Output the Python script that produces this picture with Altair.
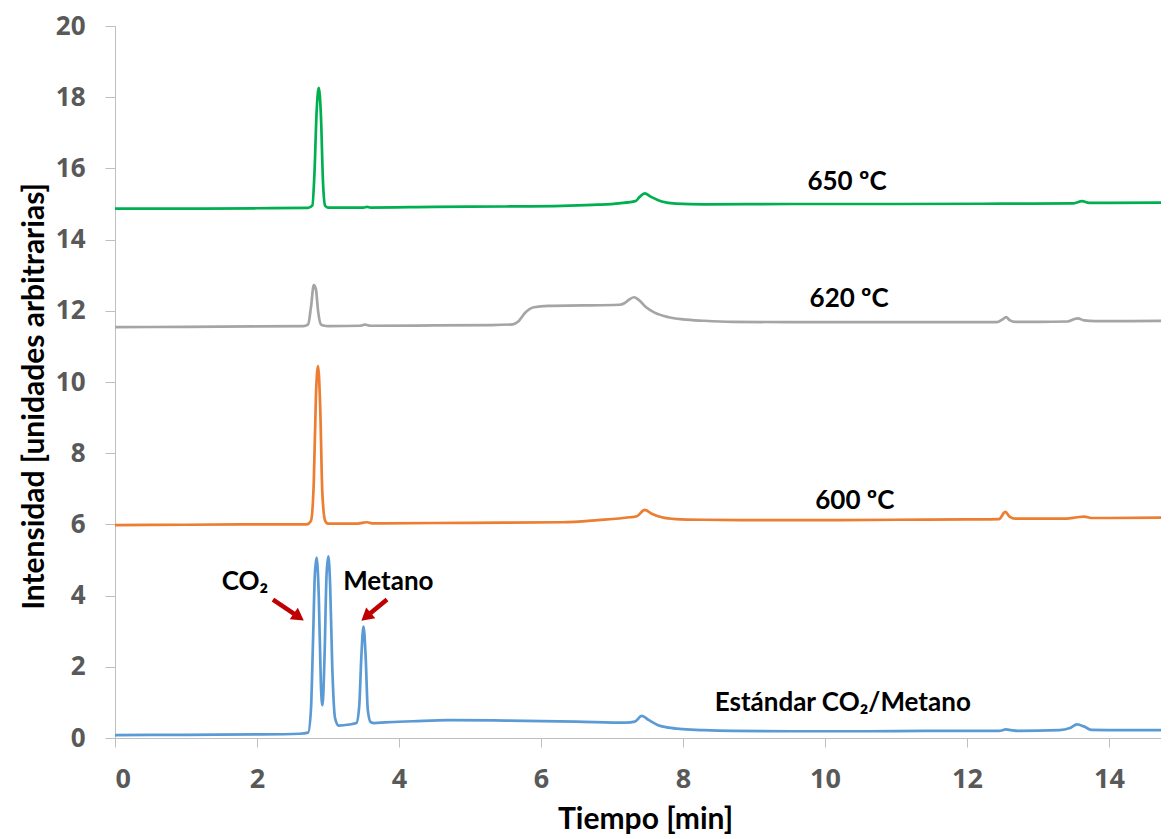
import altair as alt
import pandas as pd

# ---- data ----
blue_x = [0, 1, 2, 2.6, 2.72, 2.76, 2.79, 2.815, 2.84, 2.87, 2.9, 2.922, 2.95, 2.98, 3.005,
          3.03, 3.06, 3.1, 3.15, 3.3, 3.4, 3.44, 3.47, 3.5, 3.53, 3.56, 3.6, 3.65, 3.8, 4.2,
          4.7, 5.5, 6.5, 7.2, 7.32, 7.42, 7.52, 7.65, 7.8, 8.0, 8.3, 8.7, 9.5, 10.5, 11.5,
          12.45, 12.55, 12.62, 12.72, 13.3, 13.45, 13.55, 13.65, 13.75, 14.2, 14.9]
blue_y = [0.08, 0.09, 0.1, 0.12, 0.15, 0.8, 2.8, 4.6, 5.07, 4.0, 1.5, 0.92, 2.2, 4.6, 5.1,
          4.3, 2.0, 0.55, 0.35, 0.38, 0.42, 0.9, 2.3, 3.13, 2.3, 0.8, 0.45, 0.42, 0.44, 0.47,
          0.5, 0.49, 0.46, 0.43, 0.46, 0.62, 0.5, 0.36, 0.29, 0.25, 0.22, 0.2, 0.19, 0.19, 0.2,
          0.2, 0.24, 0.22, 0.2, 0.22, 0.28, 0.38, 0.32, 0.23, 0.22, 0.22]

orange_x = [0, 1, 2, 2.7, 2.76, 2.8, 2.83, 2.86, 2.89, 2.92, 2.96, 3.0, 3.4, 3.5, 3.55, 3.62,
            4.5, 5.5, 6.3, 6.8, 7.25, 7.35, 7.46, 7.56, 7.7, 7.9, 8.3, 9, 10, 11, 12, 12.45,
            12.54, 12.6, 12.68, 12.78, 13.4, 13.55, 13.65, 13.75, 14, 14.9]
orange_y = [5.98, 5.99, 6.0, 6.0, 6.1, 7.2, 9.6, 10.45, 9.3, 6.9, 6.1, 6.02, 6.02, 6.05, 6.06,
            6.03, 6.04, 6.05, 6.06, 6.12, 6.2, 6.23, 6.41, 6.3, 6.2, 6.15, 6.13, 6.12, 6.12,
            6.13, 6.14, 6.15, 6.35, 6.22, 6.16, 6.16, 6.16, 6.2, 6.22, 6.18, 6.18, 6.19]

gray_x = [0, 1, 2, 2.65, 2.72, 2.76, 2.8, 2.83, 2.86, 2.9, 2.95, 3.0, 3.45, 3.52, 3.6, 4.5,
          5.3, 5.6, 5.68, 5.78, 5.9, 6.1, 6.6, 7.1, 7.18, 7.25, 7.31, 7.38, 7.48, 7.6, 7.8,
          8.0, 8.3, 8.7, 9.5, 10.5, 11.5, 12.42, 12.5, 12.55, 12.6, 12.68, 13.0, 13.42, 13.5,
          13.56, 13.65, 13.8, 14.3, 14.9]
gray_y = [11.54, 11.55, 11.56, 11.57, 11.62, 12.1, 12.72, 12.6, 12.0, 11.62, 11.58, 11.57,
          11.58, 11.61, 11.58, 11.59, 11.6, 11.62, 11.7, 11.95, 12.1, 12.14, 12.15, 12.17,
          12.22, 12.33, 12.38, 12.3, 12.1, 11.95, 11.82, 11.76, 11.72, 11.69, 11.68, 11.68,
          11.68, 11.68, 11.76, 11.82, 11.74, 11.69, 11.69, 11.7, 11.76, 11.79, 11.73, 11.71,
          11.71, 11.72]

green_x = [0, 1, 2, 2.72, 2.78, 2.81, 2.84, 2.87, 2.9, 2.93, 2.96, 3.0, 3.5, 3.55, 3.6, 4.5,
           5.5, 6.3, 6.8, 7.1, 7.33, 7.39, 7.46, 7.55, 7.7, 7.9, 8.3, 9.5, 11, 12.5, 13.5,
           13.62, 13.72, 14, 14.9]
green_y = [14.87, 14.87, 14.88, 14.89, 14.96, 15.9, 17.6, 18.26, 17.5, 15.6, 14.95, 14.9,
           14.9, 14.92, 14.9, 14.92, 14.93, 14.95, 14.98, 15.02, 15.08, 15.2, 15.3, 15.2,
           15.07, 15.01, 14.99, 15.0, 15.0, 15.01, 15.02, 15.08, 15.03, 15.03, 15.04]

series_names = ["Estándar", "600", "620", "650"]
series_colors = ["#5B9BD5", "#ED7D31", "#A5A5A5", "#00B050"]

label_texts = ["650 ºC", "620 ºC", "600 ºC", "Estándar CO₂/Metano", "CO₂", "Metano"]
label_x = [10.31, 10.34, 10.42, 10.25, 1.83, 3.85]
label_y = [15.63, 12.32, 6.67, 0.98, 4.37, 4.37]

arrow_tail_x = [2.225, 3.831]
arrow_tail_y = [3.89, 3.89]
arrow_head_x = [2.565, 3.558]
arrow_head_y = [3.43, 3.44]
arrow_angle = [125, 230]

x_ticks = [0, 2, 4, 6, 8, 10, 12, 14]
y_ticks = [0, 2, 4, 6, 8, 10, 12, 14, 16, 18, 20]

# ---- tables ----
rows = []
for name, xs, ys in zip(series_names, [blue_x, orange_x, gray_x, green_x],
                        [blue_y, orange_y, gray_y, green_y]):
    for i, (a, b) in enumerate(zip(xs, ys)):
        rows.append({"serie": name, "t": a, "v": b, "i": i})
df = pd.DataFrame(rows)
labels = pd.DataFrame({"txt": label_texts, "x": label_x, "y": label_y})
arrows = pd.DataFrame({"x": arrow_tail_x, "y": arrow_tail_y, "x2": arrow_head_x,
                       "y2": arrow_head_y, "ang": arrow_angle})

XMAX = 1046 / 71.0
xs = alt.Scale(domain=[0, XMAX], nice=False, zero=False)
ys = alt.Scale(domain=[0, 20], nice=False)

lines = alt.Chart(df).mark_line(strokeWidth=2.7, interpolate="monotone", clip=True).encode(
    x=alt.X("t:Q", scale=xs, axis=alt.Axis(
        title="Tiempo [min]", values=x_ticks, format="d", grid=False, domainColor="#BFBFBF",
        tickColor="#BFBFBF", tickSize=9, labelFont="Open Sans", labelFontWeight="bold",
        labelFontSize=27, labelColor="#595959", labelPadding=19, titleFont="Lato",
        titleFontSize=30, titleFontWeight="bold", titleColor="#000000", titlePadding=12,
        titleX=530)),
    y=alt.Y("v:Q", scale=ys, axis=alt.Axis(
        title="Intensidad [unidades arbitrarias]", values=y_ticks, format="d", grid=False,
        domainColor="#BFBFBF", tickColor="#BFBFBF", tickSize=10, labelFont="Open Sans",
        labelFontWeight="bold", labelFontSize=26, labelColor="#595959", labelPadding=20,
        titleFont="Lato", titleFontSize=30, titleFontWeight="bold", titleColor="#000000",
        titlePadding=6, titleY=370)),
    color=alt.Color("serie:N", scale=alt.Scale(domain=series_names, range=series_colors),
                    legend=None),
    detail="serie:N",
    order="i:Q",
)

texts = alt.Chart(labels).mark_text(font="Lato", fontSize=26, fontWeight="bold",
                                    color="#000000", align="center", baseline="middle").encode(
    x=alt.X("x:Q", scale=xs), y=alt.Y("y:Q", scale=ys), text="txt:N")

shafts = alt.Chart(arrows).mark_rule(color="#C00000", strokeWidth=4.5).encode(
    x=alt.X("x:Q", scale=xs), y=alt.Y("y:Q", scale=ys), x2="x2:Q", y2="y2:Q")

heads = alt.Chart(arrows).mark_point(shape="triangle", filled=True, color="#C00000",
                                     size=200, opacity=1).encode(
    x=alt.X("x2:Q", scale=xs), y=alt.Y("y2:Q", scale=ys),
    angle=alt.Angle("ang:Q", scale=None))

chart = alt.layer(lines, shafts, heads, texts).properties(
    width=1046, height=712,
    padding={"left": 107, "top": 18, "right": 0, "bottom": 100},
    autosize=alt.AutoSizeParams(type="none"),
    background="#FFFFFF",
).configure_view(stroke=None)

chart.save("out.html", embed_options={"renderer": "svg", "actions": False})
